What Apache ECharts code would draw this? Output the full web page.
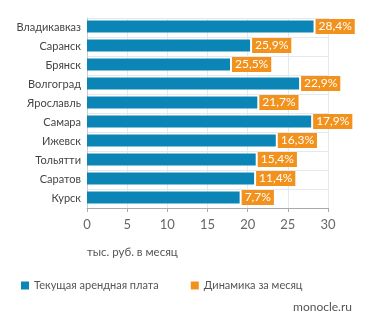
<!DOCTYPE html>
<html><head><meta charset="utf-8">
<script src="https://cdn.jsdelivr.net/npm/echarts@6/dist/echarts.min.js"></script>
<style>html,body{margin:0;padding:0;background:#fff}#c{width:371px;height:330px}</style>
</head><body><div id="c"></div>
<script>
var cities = ['Владикавказ','Саранск','Брянск','Волгоград','Ярославль','Самара','Ижевск','Тольятти','Саратов','Курск'];
var rent = [28.2, 20.3, 17.8, 26.4, 21.2, 27.9, 23.5, 21.0, 20.8, 19.0];
var dynamics = ['28,4%','25,9%','25,5%','22,9%','21,7%','17,9%','16,3%','15,4%','11,4%','7,7%'];
var xTicks = [0,5,10,15,20,25,30];
var seriesNames = ['Текущая арендная плата','Динамика за месяц'];
var FONT = 'Lato';
var chart = echarts.init(document.getElementById('c'));
chart.setOption({
  animation:false,
  textStyle:{fontFamily:FONT},
  grid:{left:87,top:18,width:241,height:190,containLabel:false},
  xAxis:{type:'value',min:xTicks[0],max:xTicks[xTicks.length-1],interval:5,
    name:'тыс. руб. в месяц',nameLocation:'start',nameGap:0,
    nameTextStyle:{color:'#555',fontSize:11.5,align:'left',verticalAlign:'top',padding:[38,0,0,0]},
    axisLine:{show:true,lineStyle:{color:'#aaa'}},
    axisTick:{show:true,length:4,lineStyle:{color:'#aaa'}},
    axisLabel:{color:'#666',fontSize:13,margin:10},
    splitLine:{show:true,lineStyle:{color:'#e3e9ef'}}},
  yAxis:{type:'category',data:cities,inverse:true,
    axisLine:{show:true,lineStyle:{color:'#ccc'}},
    axisTick:{show:false},
    axisLabel:{color:'#444',fontSize:11,margin:6},
    splitLine:{show:true,lineStyle:{color:'#e3e9ef'}}},
  legend:{left:16,top:275,itemWidth:8,itemHeight:8,itemGap:32,icon:'rect',
    textStyle:{color:'#555',fontSize:11,fontFamily:FONT},data:seriesNames},
  series:[
    {name:seriesNames[0],type:'bar',data:rent,barWidth:12,itemStyle:{color:'#0a85b6'},
     label:{show:true,position:'right',distance:2,
       formatter:function(p){return dynamics[p.dataIndex];},
       color:'#fff',fontSize:12,backgroundColor:'#f2921c',padding:[1,3,0,3],lineHeight:14}},
    {name:seriesNames[1],type:'bar',data:[],itemStyle:{color:'#f2921c'}}
  ],
  graphic:[{type:'text',right:19,top:301,style:{text:'monocle.ru',fill:'#555',fontSize:12,fontFamily:FONT}}]
});
</script></body></html>
